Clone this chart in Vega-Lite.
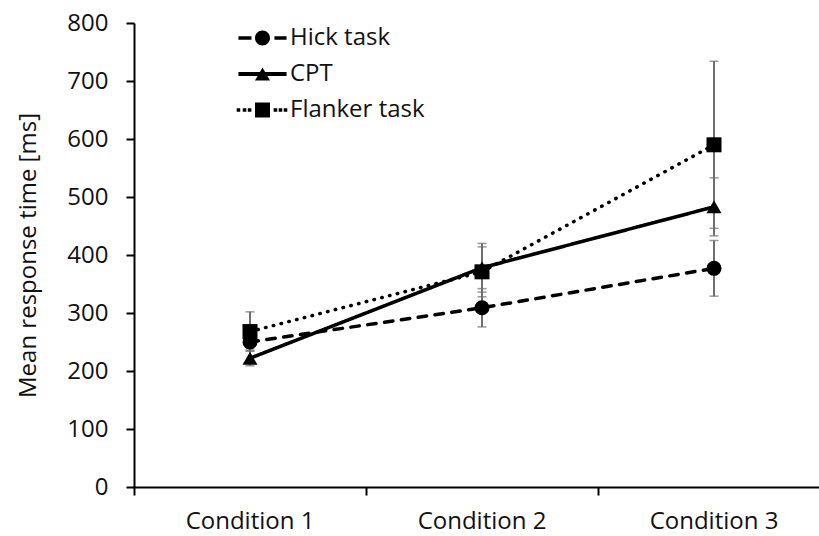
{
  "$schema": "https://vega.github.io/schema/vega-lite/v6.json",
  "autosize": {"type": "none"},
  "padding": {"left": 134, "top": 23, "right": 0, "bottom": 49},
  "width": 685,
  "height": 464,
  "background": "white",
  "config": {
    "view": {"stroke": null},
    "font": "Open Sans",
    "axis": {
      "grid": false,
      "domainColor": "#000000",
      "domainWidth": 2,
      "tickColor": "#000000",
      "tickWidth": 2,
      "tickSize": 8,
      "labelFont": "Open Sans",
      "labelFontSize": 24,
      "labelColor": "#111111",
      "titleFont": "Open Sans",
      "titleFontSize": 24,
      "titleFontWeight": "normal",
      "titleColor": "#111111"
    },
    "legend": {
      "labelFont": "Open Sans",
      "labelFontSize": 24,
      "labelColor": "#111111"
    }
  },
  "data": {
    "values": [
      {"task": "Hick task", "condition": "Condition 1", "mean": 250, "lo": 238, "hi": 262},
      {"task": "Hick task", "condition": "Condition 2", "mean": 309, "lo": 276, "hi": 342},
      {"task": "Hick task", "condition": "Condition 3", "mean": 377, "lo": 329, "hi": 425},
      {"task": "CPT", "condition": "Condition 1", "mean": 222, "lo": 209, "hi": 235},
      {"task": "CPT", "condition": "Condition 2", "mean": 378, "lo": 336, "hi": 420},
      {"task": "CPT", "condition": "Condition 3", "mean": 483, "lo": 433, "hi": 533},
      {"task": "Flanker task", "condition": "Condition 1", "mean": 268, "lo": 234, "hi": 302},
      {"task": "Flanker task", "condition": "Condition 2", "mean": 371, "lo": 328, "hi": 414},
      {"task": "Flanker task", "condition": "Condition 3", "mean": 590, "lo": 446, "hi": 734}
    ]
  },
  "encoding": {
    "x": {
      "field": "condition",
      "type": "nominal",
      "scale": {"type": "band", "range": [0, 696], "paddingInner": 0, "paddingOuter": 0},
      "axis": {"title": null, "labelAngle": 0, "bandPosition": 0, "labelPadding": 14, "domainCap": "square"}
    }
  },
  "layer": [
    {
      "mark": {"type": "rule", "color": "#6e6e6e", "strokeWidth": 2},
      "encoding": {
        "y": {"field": "lo", "type": "quantitative",
          "scale": {"domain": [0, 800], "nice": false},
          "axis": {"title": "Mean response time [ms]", "values": [0,100,200,300,400,500,600,700,800], "labelPadding": 18, "titleX": -99, "titleY": 232, "titleAngle": -90, "titleAlign": "center", "titleBaseline": "alphabetic"}},
        "y2": {"field": "hi"}
      }
    },
    {
      "mark": {"type": "tick", "color": "#6e6e6e", "size": 9, "thickness": 1.5, "orient": "horizontal"},
      "encoding": {"y": {"field": "lo", "type": "quantitative"}}
    },
    {
      "mark": {"type": "tick", "color": "#6e6e6e", "size": 9, "thickness": 1.5, "orient": "horizontal"},
      "encoding": {"y": {"field": "hi", "type": "quantitative"}}
    },
    {
      "mark": {"type": "line", "color": "#000000", "strokeWidth": 3.5, "strokeCap": "round"},
      "encoding": {
        "y": {"field": "mean", "type": "quantitative"},
        "detail": {"field": "task"},
        "strokeDash": {"field": "task", "type": "nominal",
          "scale": {"domain": ["Hick task", "CPT", "Flanker task"], "range": [[8.5, 8.5], [1, 0], [0.5, 7.5]]},
          "legend": null}
      }
    },
    {
      "mark": {"type": "point", "filled": true, "color": "#000000", "opacity": 1, "size": 225, "strokeWidth": 0},
      "encoding": {
        "y": {"field": "mean", "type": "quantitative"},
        "shape": {"field": "task", "type": "nominal",
          "scale": {"domain": ["Hick task", "CPT", "Flanker task"], "range": ["circle", "triangle-up", "square"]},
          "legend": null}
      }
    },
    {
      "mark": {"type": "point", "filled": true, "color": "#000000", "opacity": 0, "size": 441, "strokeWidth": 0},
      "encoding": {
        "y": {"field": "mean", "type": "quantitative"},
        "shape": {"field": "task", "type": "nominal",
          "scale": {"domain": ["Hick task", "CPT", "Flanker task"], "range": [
            "M-2.29,-0.167H-1.05V0.167H-2.29Z M1.14,-0.167H2.29V0.167H1.14Z M-0.714,0A0.714,0.714 0 1,0 0.714,0A0.714,0.714 0 1,0 -0.714,0Z",
            "M-2.29,-0.19H2.29V0.19H-2.29Z M0,-0.62L0.714,0.62L-0.714,0.62Z",
            "M-2.46,-0.167H-2.12V0.167H-2.46Z M-1.88,-0.167H-1.54V0.167H-1.88Z M-1.40,-0.167H-1.06V0.167H-1.40Z M1.06,-0.167H1.40V0.167H1.06Z M1.54,-0.167H1.88V0.167H1.54Z M2.02,-0.167H2.36V0.167H2.02Z M-0.714,-0.714H0.714V0.714H-0.714Z"
          ]},
          "legend": {"title": null, "orient": "none", "legendX": 116.5, "legendY": 3, "symbolSize": 441, "symbolOpacity": 1, "symbolFillColor": "#000000", "symbolStrokeWidth": 0, "labelOffset": 15.5, "rowPadding": 12, "padding": 0}
        }
      }
    }
  ],
  "resolve": {"scale": {"shape": "independent"}}
}
